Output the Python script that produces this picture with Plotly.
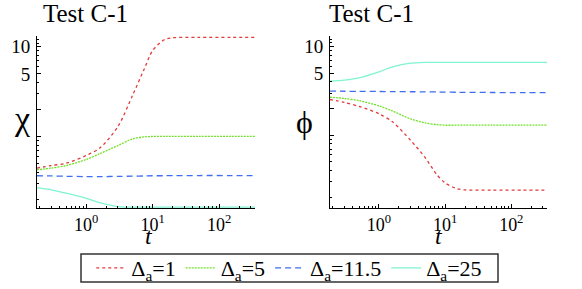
import plotly.graph_objects as go

t = [0.18, 0.3, 0.5, 1, 1.6, 3, 5, 7.5, 10, 15, 20, 50, 150, 350]

chi_d1 = [0.45, 0.48, 0.51, 0.62, 0.75, 1.3, 2.9, 5.7, 9.1, 12.0, 12.6, 12.7, 12.7, 12.7]
chi_d5 = [0.43, 0.45, 0.48, 0.56, 0.65, 0.8, 0.95, 1.0, 1.01, 1.01, 1.01, 1.01, 1.01, 1.01]
chi_d115 = [0.37, 0.368, 0.365, 0.362, 0.362, 0.364, 0.366, 0.368, 0.37, 0.37, 0.371, 0.372, 0.372, 0.372]
chi_d25 = [0.273, 0.258, 0.237, 0.208, 0.186, 0.168, 0.166, 0.166, 0.166, 0.166, 0.166, 0.166, 0.166, 0.166]

phi_d1 = [2.54, 2.35, 2.12, 1.75, 1.42, 0.88, 0.56, 0.36, 0.29, 0.25, 0.242, 0.241, 0.241, 0.241]
phi_d5 = [2.69, 2.6, 2.46, 2.15, 1.88, 1.53, 1.38, 1.32, 1.3, 1.3, 1.3, 1.3, 1.3, 1.3]
phi_d115 = [3.15, 3.14, 3.13, 3.12, 3.11, 3.1, 3.09, 3.08, 3.07, 3.06, 3.05, 3.04, 3.03, 3.03]
phi_d25 = [4.07, 4.2, 4.45, 5.2, 5.9, 6.5, 6.65, 6.66, 6.66, 6.66, 6.66, 6.66, 6.66, 6.66]

names = ["Δ<sub>a</sub>=1", "Δ<sub>a</sub>=5", "Δ<sub>a</sub>=11.5", "Δ<sub>a</sub>=25"]
colors = ["#e23a3a", "#72e02a", "#3f6ff0", "#7ff3d2"]
dashes = ["dot", "2px,1px", "6px,4px", "solid"]
widths = [1.3, 1.3, 1.3, 1.3]

x_tickvals = [1, 10, 100]
x_ticktext = ["10<sup>0</sup>", "10<sup>1</sup>", "10<sup>2</sup>"]
y_tickvals = [1, 2, 5, 10]
y_ticktext = ["", "", "5", "10"]

fig = go.Figure()
left = [chi_d1, chi_d5, chi_d115, chi_d25]
right = [phi_d1, phi_d5, phi_d115, phi_d25]
for i in range(4):
    fig.add_trace(go.Scatter(x=t, y=left[i], mode="lines", name=names[i],
                             line=dict(color=colors[i], dash=dashes[i], width=widths[i],
                                       shape="spline", smoothing=0.8),
                             xaxis="x", yaxis="y", showlegend=True))
for i in range(4):
    fig.add_trace(go.Scatter(x=t, y=right[i], mode="lines", name=names[i],
                             line=dict(color=colors[i], dash=dashes[i], width=widths[i],
                                       shape="spline", smoothing=0.8),
                             xaxis="x2", yaxis="y2", showlegend=False))

font_serif = "'Liberation Serif', 'DejaVu Serif', serif"
minor_x = [0.2, 0.3, 0.4, 0.5, 0.6, 0.7, 0.8, 0.9, 2, 3, 4, 5, 6, 7, 8, 9,
           20, 30, 40, 50, 60, 70, 80, 90, 200, 300]
minor_y = [0.2, 0.3, 0.4, 0.5, 0.6, 0.7, 0.8, 0.9, 3, 4, 6, 7, 8, 9, 11, 12]

def xaxis(domain, anchor):
    return dict(type="log", domain=domain, anchor=anchor, range=[-0.74, 2.54],
                showline=True, linecolor="black", linewidth=1, mirror=False,
                showgrid=False, zeroline=False, ticks="inside", ticklen=4, tickcolor="black",
                tickvals=x_tickvals, ticktext=x_ticktext, ticklabelstandoff=0,
                tickfont=dict(family=font_serif, size=18, color="black"),
                minor=dict(tickvals=minor_x, ticks="inside", ticklen=2, tickcolor="black", showgrid=False))

def yaxis(domain, anchor, rng):
    return dict(type="log", domain=domain, anchor=anchor, range=rng,
                showline=True, linecolor="black", linewidth=1, mirror=False,
                showgrid=False, zeroline=False, ticks="inside", ticklen=4, tickcolor="black",
                tickvals=y_tickvals, ticktext=y_ticktext, ticklabelstandoff=2,
                tickfont=dict(family=font_serif, size=19, color="black"),
                minor=dict(tickvals=minor_y, ticks="inside", ticklen=2, tickcolor="black", showgrid=False))

W, H = 582, 289
yd = [1 - 208 / H, 1 - 36 / H]
fig.update_layout(
    width=W, height=H, margin=dict(l=0, r=0, t=0, b=0),
    paper_bgcolor="white", plot_bgcolor="white",
    font=dict(family=font_serif),
    xaxis=xaxis([37 / W, 255 / W], "y"),
    yaxis=yaxis(yd, "x", [-0.79, 1.12]),
    xaxis2=xaxis([330 / W, 547 / W], "y2"),
    yaxis2=yaxis(yd, "x2", [-0.82, 1.12]),
    showlegend=True,
    legend=dict(orientation="h", x=0.497, xanchor="center", y=1 - 268 / H, yanchor="middle",
                font=dict(family=font_serif, size=22, color="black"),
                borderwidth=0, bgcolor="rgba(0,0,0,0)",
                itemwidth=30, tracegroupgap=0),
    shapes=[dict(type="rect", xref="paper", yref="paper",
                 x0=81 / W, x1=498 / W, y0=1 - 282 / H, y1=1 - 254 / H,
                 line=dict(color="#333", width=1.5), fillcolor="rgba(0,0,0,0)", layer="below")],
)

def ann(text, x, y, size, italic=False):
    fig.add_annotation(text=text, x=x / W, y=1 - y / H, xref="paper", yref="paper",
                       showarrow=False, xanchor="center", yanchor="middle",
                       font=dict(family=font_serif, size=size, color="black",
                                 style="italic" if italic else "normal"))

ann("Test C-1", 85, 14, 25)
ann("Test C-1", 371, 14, 25)
ann("χ", 22, 118, 34)
ann("ϕ", 304, 122, 32)
ann("t", 149, 236, 24, italic=True)
ann("t", 439, 236, 24, italic=True)

fig.write_html("out.html", config={"displayModeBar": False},
               post_script="document.body.style.margin='0';document.body.style.padding='0';")
